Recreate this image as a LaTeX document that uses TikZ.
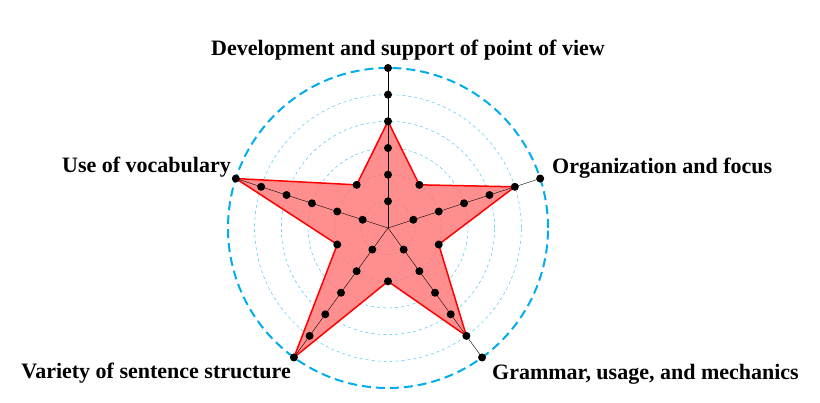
\documentclass[tikz,border=0pt]{standalone}
\usepackage{fontspec}
\setmainfont{Liberation Serif}
\usetikzlibrary{calc}
\begin{document}
\begin{tikzpicture}[x=1pt,y=1pt,
  lab/.style={font=\bfseries\fontsize{22}{24}\selectfont,inner sep=0pt},
  dot/.style={circle,fill=black,inner sep=0pt,minimum size=8pt}]
\useasboundingbox (0,0) rectangle (820,403);
\coordinate (c) at (388,175);
\def\st{26.67}
\foreach \r in {1,2,3,4,5} \draw[cyan!80,dashed,thin] (c) circle ({\r*\st});
\draw[cyan,line width=2pt,dash pattern=on 9pt off 5pt] (c) circle ({6*\st});
\def\starpath{($(c)+(90:{4*\st})$) -- ($(c)+(54:{2*\st})$) -- ($(c)+(18:{5*\st})$) -- ($(c)+(-18:{2*\st})$) -- ($(c)+(-54:{5*\st})$) -- ($(c)+(-90:{2*\st})$) -- ($(c)+(-126:{6*\st})$) -- ($(c)+(-162:{2*\st})$) -- ($(c)+(162:{6*\st})$) -- ($(c)+(126:{2*\st})$) -- cycle}
\fill[red!55,opacity=0.8] \starpath;
\draw[red,line width=1.5pt,line join=miter] \starpath;
\foreach \a in {90,18,-54,-126,162} {
  \draw[black] (c) -- ($(c)+(\a:{6*\st})$);
  \foreach \r in {1,...,6} \node[dot] at ($(c)+(\a:{\r*\st})$) {};
}
\foreach \a in {54,-18,-90,-162,126} \node[dot] at ($(c)+(\a:{2*\st})$) {};
\node[lab] (t1) at (408,353) {Development and support of point of view};
\node[lab,anchor=west] (t2) at (552,235) {Organization and focus};
\node[lab,anchor=east] (t3) at (231,236) {Use of vocabulary};
\node[lab,anchor=east] (t4) at (291,30) {Variety of sentence structure};
\node[lab,anchor=west] (t5) at (492,29) {Grammar, usage, and mechanics};
\end{tikzpicture}
\end{document}
